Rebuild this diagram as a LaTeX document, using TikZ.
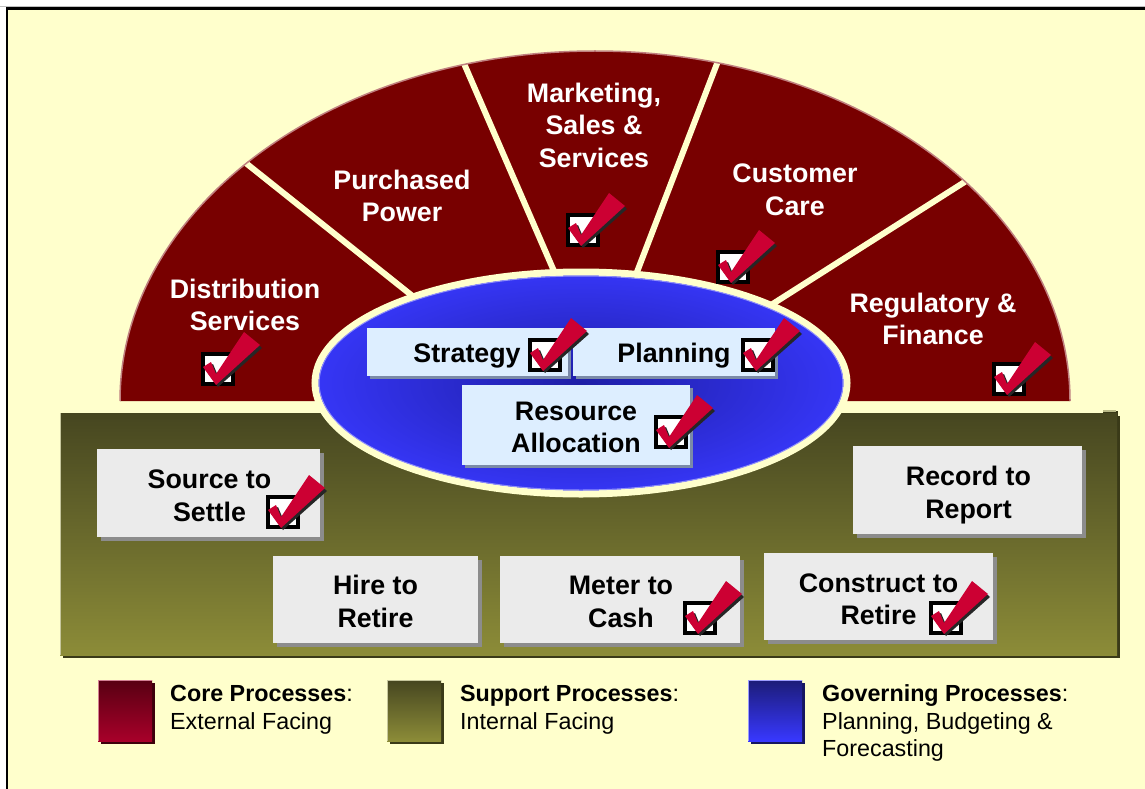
\documentclass[tikz,border=0pt]{standalone}
\usepackage{fontspec}
\setmainfont{Liberation Sans}
\usetikzlibrary{shadows}
\definecolor{bgyellow}{HTML}{FFFFCC}
\definecolor{corered}{HTML}{780000}
\definecolor{arcline}{HTML}{C08080}
\definecolor{chkred}{HTML}{CC0033}
\definecolor{olivetop}{HTML}{464620}
\definecolor{olivebot}{HTML}{8C8C38}
\definecolor{olivedark}{HTML}{3A3A18}
\definecolor{blueout}{HTML}{3636F6}
\definecolor{bluein}{HTML}{1E1EA6}
\definecolor{boxgray}{HTML}{EBEBEB}
\definecolor{boxblue}{HTML}{DDEEFF}
\definecolor{shadowgray}{HTML}{8C8C8C}
\definecolor{shadowblue}{HTML}{7A8AA8}
\definecolor{legredtop}{HTML}{580012}
\definecolor{legredbot}{HTML}{A8002A}
\definecolor{legbluetop}{HTML}{1C1C78}
\definecolor{legbluebot}{HTML}{3838FF}
\begin{document}
\begin{tikzpicture}[x=1pt,y=-1pt,
  corelabel/.style={text=white, align=center, inner sep=0pt,
    font=\fontsize{26.8}{32.5}\selectfont\bfseries},
  boxtext/.style={align=center, inner sep=0pt,
    font=\fontsize{26.8}{32.5}\selectfont\bfseries},
  supbox/.style={fill=boxgray, inner sep=0pt,
    general shadow={fill=shadowgray, shadow xshift=4pt, shadow yshift=-4pt}},
  govbox/.style={fill=boxblue, inner sep=0pt,
    general shadow={fill=shadowblue, shadow xshift=3pt, shadow yshift=-3pt}},
  legtext/.style={anchor=base west, inner sep=0pt, font=\fontsize{23.3}{27}\selectfont},
  divider/.style={draw=bgyellow, line width=6pt},
  chk/.pic={
    \draw[line width=4pt, fill=white] (-15,-15) rectangle (15,15);
    \fill[black!85] (-13,0) -- (-5,-5) -- (0,7) -- (28,-35) -- (44,-21) -- (0,18) -- cycle;
    \fill[chkred] (-15,-2) -- (-7,-7) -- (-2,5) -- (26,-37) -- (42,-24) -- (-2,16) -- cycle;
  }]
% background and frame
\useasboundingbox (0,0) rectangle (1145,789);
\fill[white] (0,0) rectangle (1145,789);
\fill[bgyellow] (8,9.5) rectangle (1145,789);
\draw[black!25, line width=1pt] (0,6.5) -- (1145,6.5);
\draw[line width=2.5pt] (7,789) -- (7,8.5) -- (1145,8.5);

% core processes semi-ellipse
\fill[corered] (595,401) ++(-475pt,0) arc[start angle=180, end angle=0, x radius=475pt, y radius=350pt] -- cycle;
\begin{scope}
  \clip (595,401) ++(-475pt,0) arc[start angle=180, end angle=0, x radius=475pt, y radius=350pt] -- cycle;
  \draw[divider] (232,152) -- (430,310);
  \draw[divider] (459,52) -- (560,285);
  \draw[divider] (723,48) -- (632,285);
  \draw[divider] (974,176) -- (760,312);
\end{scope}
\draw[arcline, line width=1.5pt] (595,401) ++(-475pt,0) arc[start angle=180, end angle=0, x radius=475pt, y radius=350pt];

% support processes panel
\fill[olivedark] (63,416) rectangle (1120,658);
\fill[olivedark] (1103,411) rectangle (1118,416);
\fill[olivebot!60!white] (1103,410) rectangle (1116,412);
\shade[top color=olivetop, bottom color=olivebot] (60,413) rectangle (1117,655);
\draw[olivebot!50!white, line width=1pt] (60.5,655) -- (60.5,413);

% governing processes ellipse
\shade[inner color=bluein, outer color=blueout] (581,383) ellipse [x radius=266pt, y radius=111pt];
\draw[bgyellow, line width=7pt] (581,383) ellipse [x radius=266pt, y radius=111pt];
\draw[blueout!55!white, line width=1pt] (581,383) ellipse [x radius=262pt, y radius=107pt];

% core labels
\node[corelabel] (dist) at (245,305) {Distribution\\Services};
\node[corelabel] (purch) at (402,196) {Purchased\\Power};
\node[corelabel] (mkt) at (594,125) {Marketing,\\Sales \&\\Services};
\node[corelabel] (cust) at (795,190) {Customer\\Care};
\node[corelabel] (reg) at (933,319) {Regulatory \&\\Finance};

% governing boxes
\node[govbox, minimum width=201pt, minimum height=48pt] (strat) at (467,352) {};
\node[boxtext] (stratT) at ([yshift=-4pt]strat.center) {Strategy};
\node[govbox, minimum width=202pt, minimum height=48pt] (plan) at (674,352) {};
\node[boxtext] (planT) at ([yshift=-4pt]plan.center) {Planning};
\node[govbox, minimum width=228pt, minimum height=80pt] (res) at (576,425) {};
\node[boxtext] (resT) at ([yshift=-2.5pt]res.center) {Resource\\Allocation};

% support boxes
\node[supbox, minimum width=223pt, minimum height=88pt] (src) at (208.5,493) {};
\node[boxtext] (srcT) at ([xshift=1pt,yshift=-3pt]src.center) {Source to\\Settle};
\node[supbox, minimum width=205pt, minimum height=87pt] (hire) at (375.5,599.5) {};
\node[boxtext] (hireT) at ([yshift=-2pt]hire.center) {Hire to\\Retire};
\node[supbox, minimum width=240pt, minimum height=87pt] (meter) at (620,599.5) {};
\node[boxtext] (meterT) at ([xshift=1pt,yshift=-2.5pt]meter.center) {Meter to\\Cash};
\node[supbox, minimum width=229pt, minimum height=87pt] (constr) at (878.5,596.5) {};
\node[boxtext] (constrT) at ([yshift=-3pt]constr.center) {Construct to\\Retire};
\node[supbox, minimum width=229pt, minimum height=88pt] (rec) at (967.5,490) {};
\node[boxtext] (recT) at ([xshift=1pt,yshift=-5pt]rec.center) {Record to\\Report};

% check marks
\pic at (218,369) {chk};
\pic at (583,230) {chk};
\pic at (733,267) {chk};
\pic at (1009,379) {chk};
\pic at (545,355) {chk};
\pic at (758,355) {chk};
\pic at (671,432) {chk};
\pic at (283,512) {chk};
\pic at (700,618) {chk};
\pic at (946,618) {chk};

% legend
\fill[legredtop!70!black] (101,683) rectangle (155,744);
\shade[top color=legredtop, bottom color=legredbot] (98,680) rectangle (152,741);
\draw[legredbot!50!white, line width=1.5pt] (98.7,741) -- (98.7,680.7) -- (152,680.7);
\node[legtext] (coreT) at (170,701) {\textbf{Core Processes}:};
\node[legtext] (coreS) at (170,729) {External Facing};

\fill[olivedark] (390,683) rectangle (444,744);
\shade[top color=olivetop, bottom color=olivebot] (387,680) rectangle (441,741);
\draw[olivebot!50!white, line width=1.5pt] (387.7,741) -- (387.7,680.7) -- (441,680.7);
\node[legtext] (supT) at (460,701) {\textbf{Support Processes}:};
\node[legtext] (supS) at (460,729) {Internal Facing};

\fill[legbluetop!80!black] (751,683) rectangle (805,744);
\shade[top color=legbluetop, bottom color=legbluebot] (748,680) rectangle (802,741);
\draw[legbluebot!50!white, line width=1.5pt] (748.7,741) -- (748.7,680.7) -- (802,680.7);
\node[legtext] (govT) at (822,701) {\textbf{Governing Processes}:};
\node[legtext] (govS) at (822,729) {Planning, Budgeting \&};
\node[legtext] (govS2) at (822,756) {Forecasting};
\end{tikzpicture}
\end{document}
